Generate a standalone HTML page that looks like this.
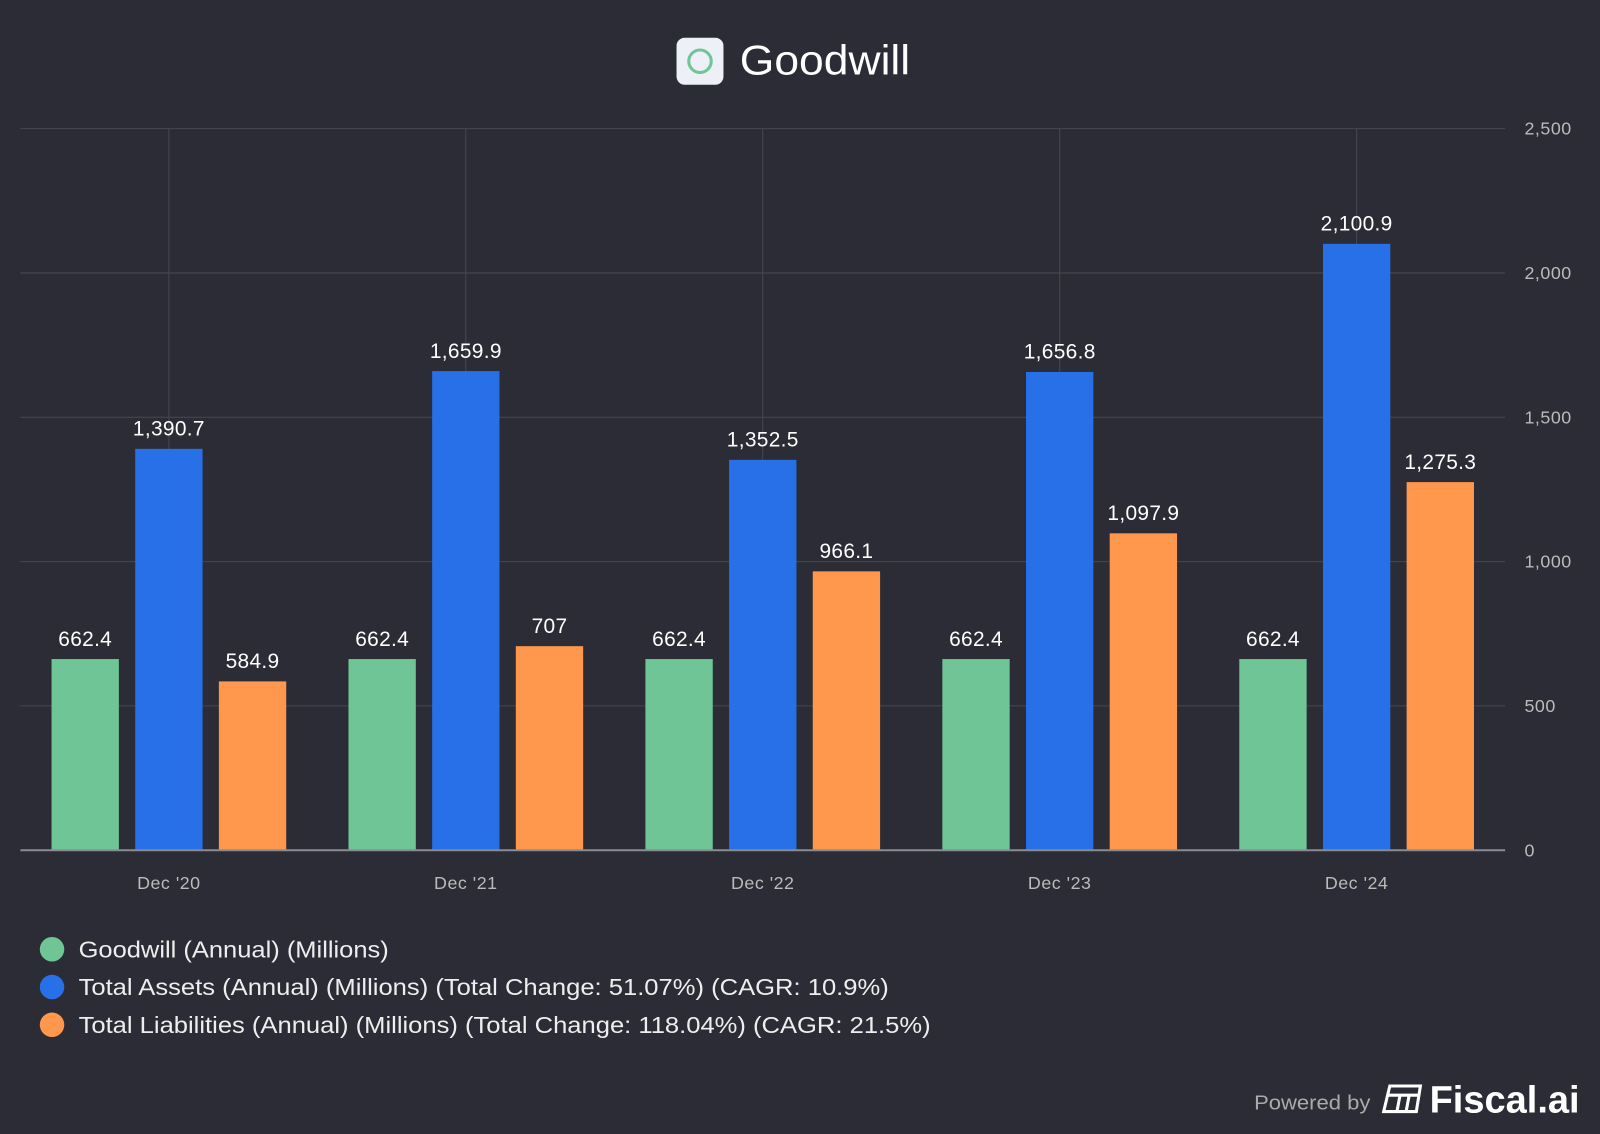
<!DOCTYPE html>
<html><head><meta charset="utf-8"><style>
html,body{margin:0;padding:0;background:#2b2c35;width:1600px;height:1134px;overflow:hidden}
svg{display:block;font-family:"Liberation Sans",Arial,sans-serif}
</style></head><body>
<svg id="chart" width="1600" height="1134" viewBox="0 0 1568 1111" preserveAspectRatio="none" xmlns="http://www.w3.org/2000/svg">
<rect width="1568" height="1111" fill="#2b2c35"/>
<g>
<rect x="663" y="37" width="46" height="46" rx="8" fill="#eef0f8"/>
<circle cx="686" cy="60" r="11" fill="none" stroke="#6fc595" stroke-width="3"/>
<text x="725" y="73" font-size="41" fill="#ffffff" textLength="167" lengthAdjust="spacingAndGlyphs">Goodwill</text>
</g>
<g id="grid"></g>
<g id="bars"></g>
<g>
<g><circle cx="51" cy="930" r="12" fill="#6fc595"/><text x="77" y="938" font-size="23" fill="#eeeeee" textLength="304" lengthAdjust="spacingAndGlyphs">Goodwill (Annual) (Millions)</text></g>
<g><circle cx="51" cy="967" r="12" fill="#2770e8"/><text x="77" y="975" font-size="23" fill="#eeeeee" textLength="794" lengthAdjust="spacingAndGlyphs">Total Assets (Annual) (Millions) (Total Change: 51.07%) (CAGR: 10.9%)</text></g>
<g><circle cx="51" cy="1004" r="12" fill="#ff974d"/><text x="77" y="1012" font-size="23" fill="#eeeeee" textLength="835" lengthAdjust="spacingAndGlyphs">Total Liabilities (Annual) (Millions) (Total Change: 118.04%) (CAGR: 21.5%)</text></g>
</g>
<g>
<text x="1229" y="1087" font-size="20" fill="#aaaaaa" textLength="114" lengthAdjust="spacingAndGlyphs">Powered by</text>
<g fill="none" stroke="#ffffff" stroke-width="3"><path d="M1362 1064 L1392 1064 L1388 1089 L1356 1089 Z"/><path d="M1360 1073 L1390 1073 M1372 1073 L1369 1089 M1381 1073 L1378 1089"/></g>
<text x="1401" y="1090" font-size="37" fill="#ffffff" font-weight="bold" textLength="147" lengthAdjust="spacingAndGlyphs">Fiscal.ai</text>
</g>
</svg>
<script>
const categories=["Dec '20","Dec '21","Dec '22","Dec '23","Dec '24"];
const goodwill=[662.4,662.4,662.4,662.4,662.4];
const totalAssets=[1390.7,1659.9,1352.5,1656.8,2100.9];
const totalLiabilities=[584.9,707,966.1,1097.9,1275.3];
const yTicks=[0,500,1000,1500,2000,2500];
const yTickLabels=["0","500","1,000","1,500","2,000","2,500"];

const NS="http://www.w3.org/2000/svg";
const X0=20,X1=1475,YT=126,YB=833,YMAX=2500;
const yScale=v=>YB-(v/YMAX)*(YB-YT);
const step=(X1-X0)/categories.length;
const xCenter=i=>X0+step*(i+0.5);
function mk(tag,attrs,parent){const e=document.createElementNS(NS,tag);for(const k in attrs)e.setAttribute(k,attrs[k]);parent.appendChild(e);return e;}
const grid=document.getElementById('grid'),bars=document.getElementById('bars');
yTicks.forEach((t,i)=>{
  const y=yScale(t);
  if(t>0){const l=mk('line',{x1:X0,x2:X1,y1:y,y2:y,stroke:'#474852','stroke-width':1},grid);
  
  }
  const tx=mk('text',{x:1494,y:y+6,'font-size':17.5,fill:'#bbbbbb','letter-spacing':'0.5'},grid);tx.textContent=yTickLabels[i];
  
  
});
categories.forEach((c,i)=>{
  const x=xCenter(i);
  const l=mk('line',{x1:x,x2:x,y1:YT,y2:YB,stroke:'#474852','stroke-width':1},grid);
  
  
  const tx=mk('text',{x:x,y:871,'font-size':17.5,fill:'#bbbbbb','text-anchor':'middle','letter-spacing':'0.5'},grid);tx.textContent=c;
  
  
});
const series=[[goodwill,'#6fc595',-82,'goodwill'],[totalAssets,'#2770e8',0,'total-assets'],[totalLiabilities,'#ff974d',82,'total-liabilities']];
const fmt=v=>v.toLocaleString('en-US',{maximumFractionDigits:1});
series.forEach(([vals,col,off,nm])=>{
  vals.forEach((v,i)=>{
    const cx=xCenter(i)+off,y=yScale(v);
    const r=mk('rect',{x:cx-33,y:y,width:66,height:YB-y,fill:col},bars);
    
    
    const t=mk('text',{x:cx,y:y-13,'font-size':20.5,fill:'#ffffff','text-anchor':'middle','letter-spacing':'0.3'},bars);t.textContent=fmt(v);
    
    
  });
});
const base=mk('line',{x1:X0,x2:X1,y1:YB,y2:YB,stroke:'#8a8b93','stroke-width':2},bars);


</script>
</body></html>
